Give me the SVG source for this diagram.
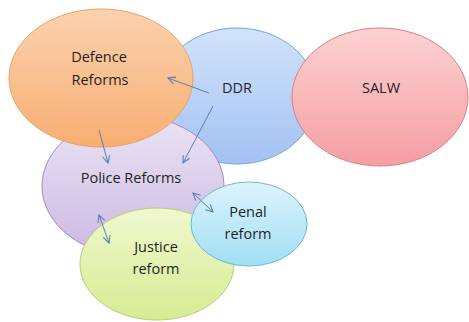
<svg xmlns="http://www.w3.org/2000/svg" width="469" height="322" viewBox="0 0 469 322">
<defs>
<linearGradient id="gOr" x1="0" y1="0" x2="0" y2="1"><stop offset="0" stop-color="#fbd2ae"/><stop offset="1" stop-color="#f8ae72"/></linearGradient>
<linearGradient id="gBl" x1="0" y1="0" x2="0" y2="1"><stop offset="0" stop-color="#d2e3fb"/><stop offset="1" stop-color="#a2c2f2"/></linearGradient>
<linearGradient id="gRd" x1="0" y1="0" x2="0" y2="1"><stop offset="0" stop-color="#fdd2d2"/><stop offset="1" stop-color="#f49ea3"/></linearGradient>
<linearGradient id="gPu" x1="0" y1="0" x2="0" y2="1"><stop offset="0" stop-color="#ebe3f5"/><stop offset="1" stop-color="#cbb9e2"/></linearGradient>
<linearGradient id="gGr" x1="0" y1="0" x2="0" y2="1"><stop offset="0" stop-color="#eff8cf"/><stop offset="1" stop-color="#d6ec92"/></linearGradient>
<linearGradient id="gCy" x1="0" y1="0" x2="0" y2="1"><stop offset="0" stop-color="#dcf4fc"/><stop offset="1" stop-color="#a2def4"/></linearGradient>
<marker id="ah" viewBox="0 0 10 10" refX="9" refY="5" markerWidth="9" markerHeight="9" markerUnits="userSpaceOnUse" orient="auto-start-reverse">
<path d="M1,1 L9,5 L1,9" fill="none" stroke="#5a7fb5" stroke-width="1.2"/>
</marker>
<style>
text{font-family:"Open Sans","Liberation Sans",sans-serif;font-size:14.5px;fill:#1f1f1f;text-anchor:middle}
.c{stroke:#5a7fb5;stroke-width:1;fill:none}
</style>
</defs>
<rect width="469" height="322" fill="#ffffff"/>
<g id="ddr"><ellipse cx="237" cy="96" rx="80" ry="68" fill="url(#gBl)" stroke="#7d9fd2" stroke-width="1"/><text x="237" y="93">DDR</text></g>
<g id="salw"><ellipse cx="380" cy="97" rx="88" ry="69" fill="url(#gRd)" stroke="#d47f87" stroke-width="1"/><text x="381" y="93">SALW</text></g>
<g id="police"><ellipse cx="133" cy="186" rx="91" ry="70" fill="url(#gPu)" stroke="#9e8bc2" stroke-width="1"/><text x="131" y="183">Police Reforms</text></g>
<g id="defence"><ellipse cx="101" cy="78" rx="92" ry="69" fill="url(#gOr)" stroke="#e3a36e" stroke-width="1"/><text x="99" y="62">Defence</text><text x="100" y="85">Reforms</text></g>
<g id="justice"><ellipse cx="157" cy="264" rx="77" ry="56" fill="url(#gGr)" stroke="#b6cc7c" stroke-width="1"/><text x="156" y="252">Justice</text><text x="156" y="274">reform</text></g>
<g id="penal"><ellipse cx="249" cy="224" rx="58" ry="42" fill="url(#gCy)" stroke="#6eb7d0" stroke-width="1"/><text x="248" y="217">Penal</text><text x="248" y="239">reform</text></g>
<g id="connectors">
<line class="c" x1="209" y1="93" x2="168" y2="78" marker-end="url(#ah)"/>
<line class="c" x1="213" y1="106" x2="183" y2="163" marker-end="url(#ah)"/>
<line class="c" x1="99" y1="130" x2="108" y2="163" marker-end="url(#ah)"/>
<line class="c" x1="193" y1="193" x2="213" y2="212" marker-start="url(#ah)" marker-end="url(#ah)"/>
<line class="c" x1="99" y1="215" x2="109" y2="243" marker-start="url(#ah)" marker-end="url(#ah)"/>
</g>
</svg>
